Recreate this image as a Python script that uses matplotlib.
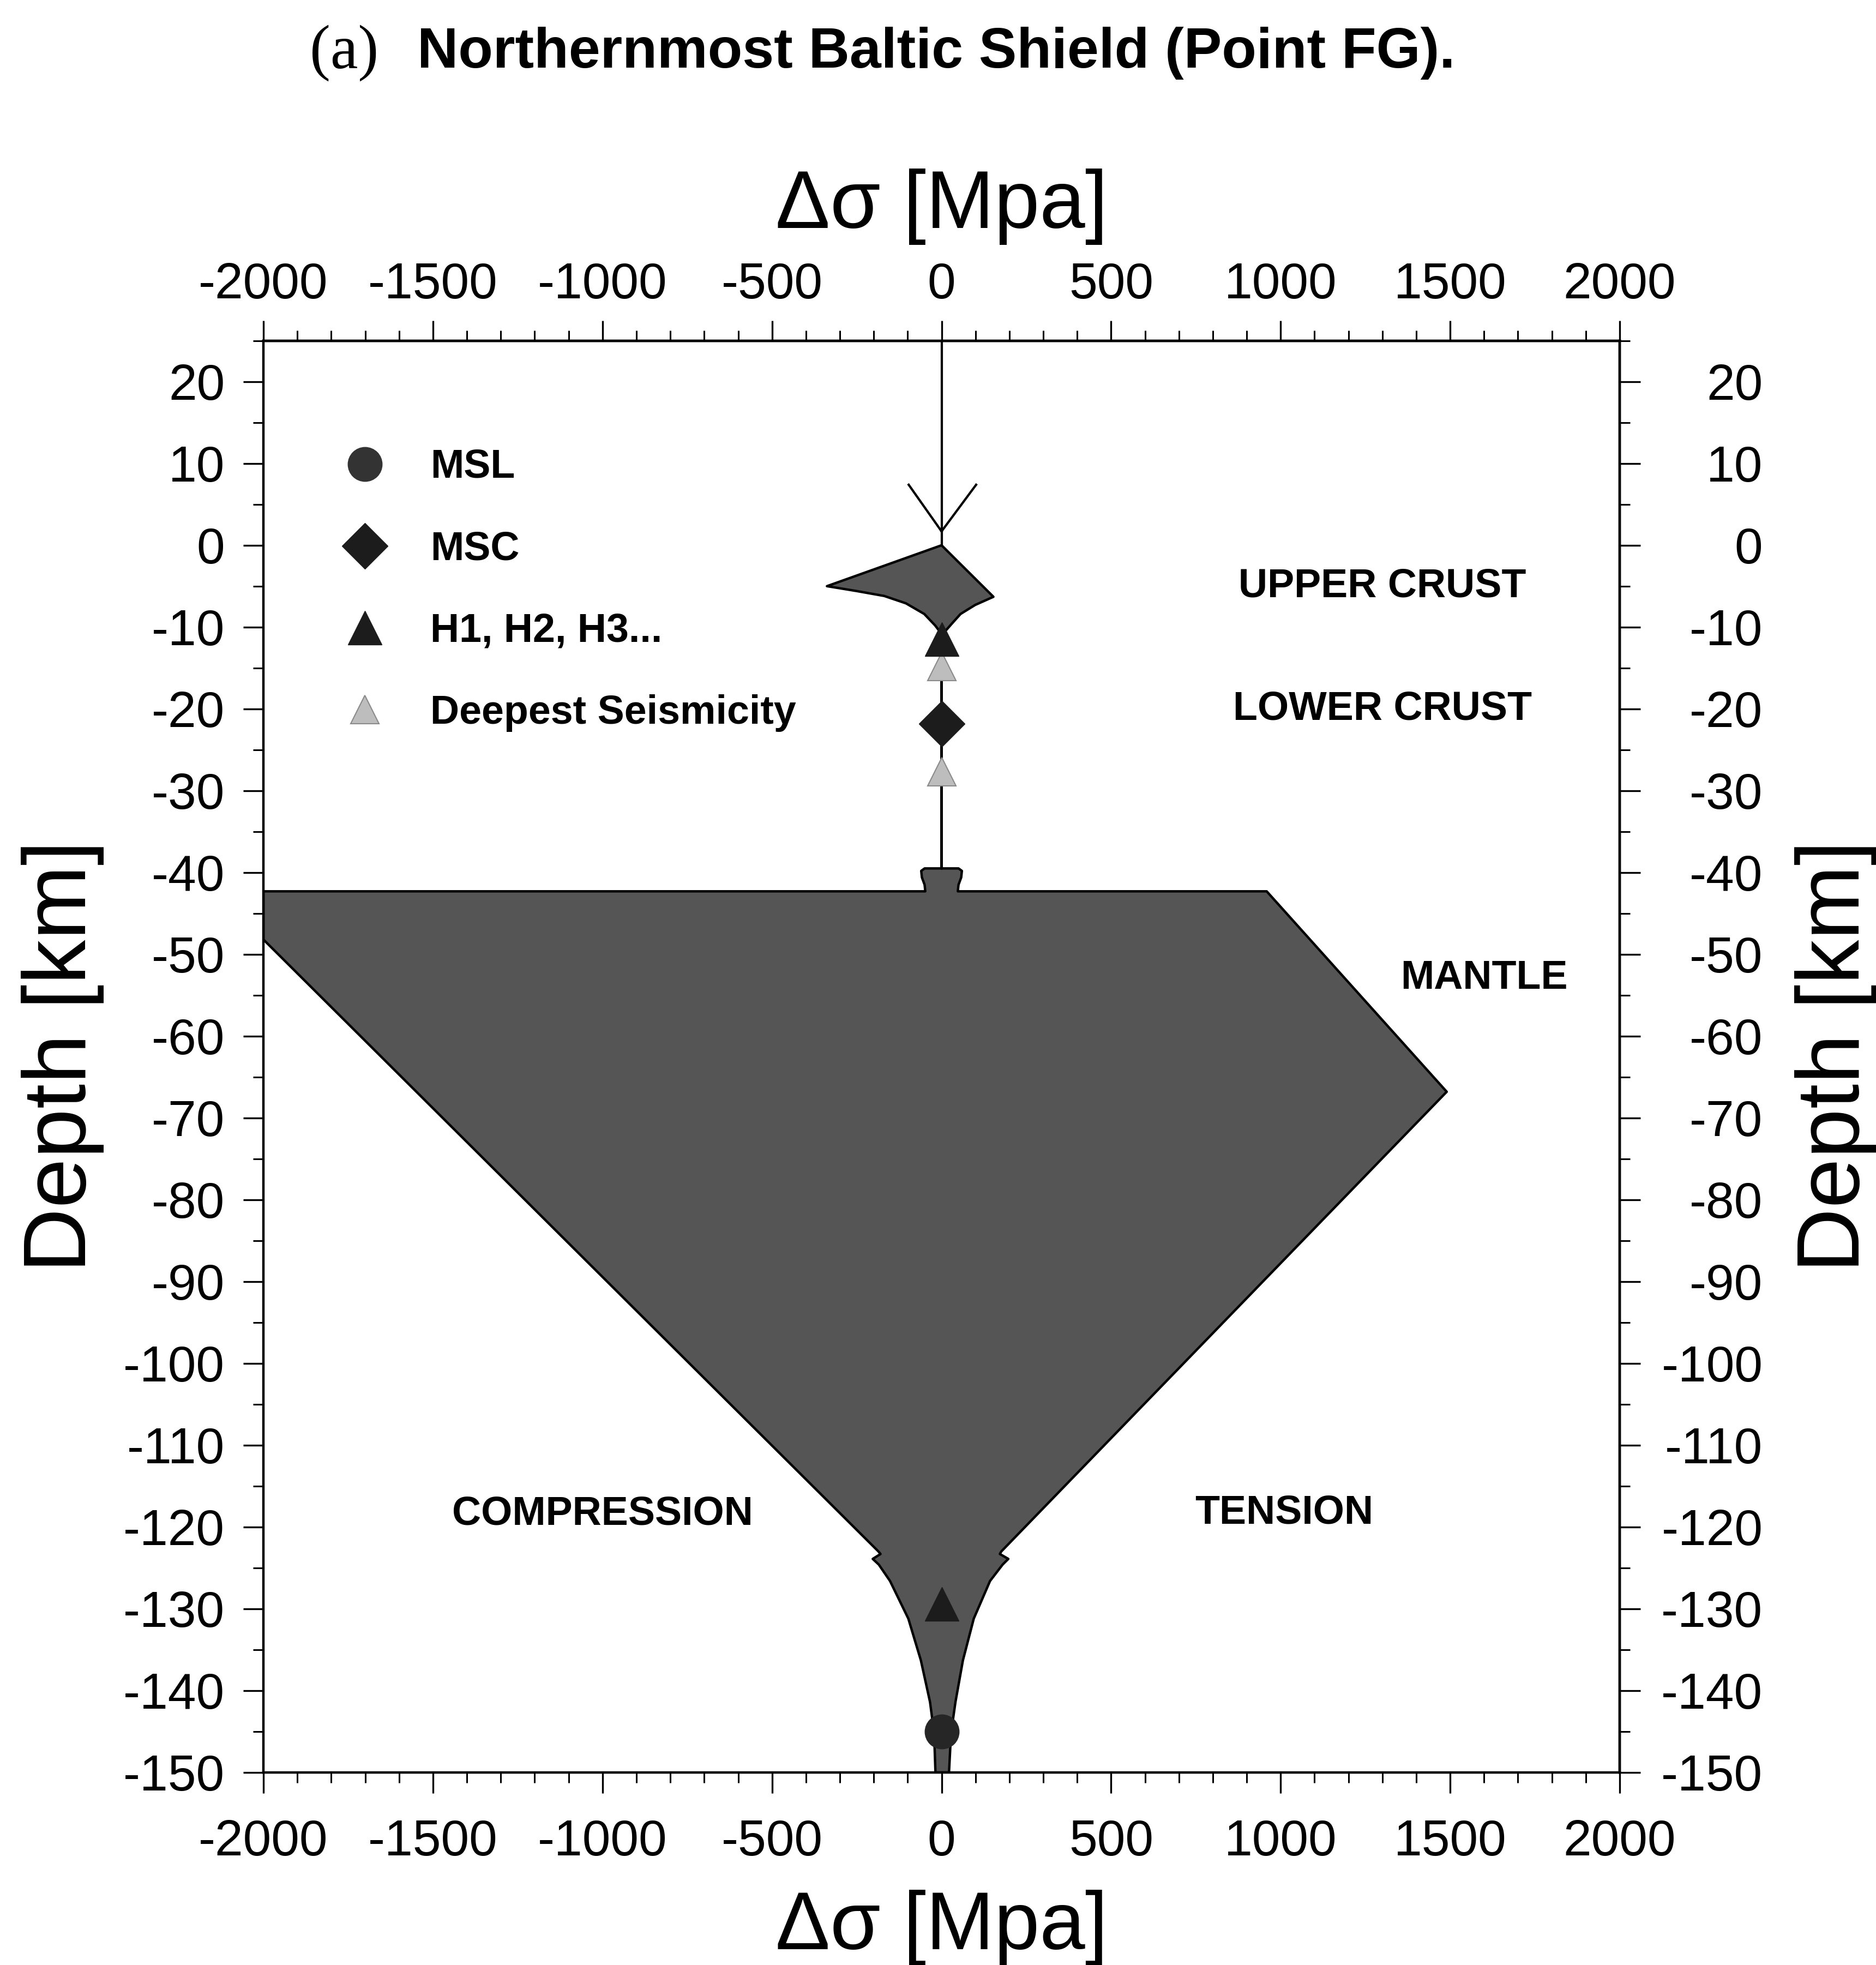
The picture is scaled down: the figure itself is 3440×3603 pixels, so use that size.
import numpy as np
import matplotlib
matplotlib.use("Agg")
import matplotlib.pyplot as plt
from matplotlib.lines import Line2D
from matplotlib.ticker import MultipleLocator

plt.rcParams['font.family'] = ['Liberation Sans', 'DejaVu Sans']
plt.rcParams['axes.unicode_minus'] = False

# strength envelope, compression side: depth [km], stress [MPa]
comp_depth = [0, -5.0, -5.6, -6.2, -7.1, -8.4, -9.8, -10.4, -11.0,
              -39.5, -39.5, -39.8, -40.6, -41.5, -42.3,
              -42.3, -48.2, -123.0, -123.3, -123.9, -124.6,
              -126.6, -131.2, -136.3, -141.4, -145.2, -150]
comp_stress = [0, -338, -250, -169, -105, -51, -19, -8, 0,
               0, -50, -60, -58, -50, -48,
               -2000, -2000, -186, -180, -203, -185,
               -152, -98, -61, -34, -22, -18]

# tension side
tens_depth = [0, -6.3, -7.3, -8.4, -9.6, -10.4, -11.0,
              -39.5, -39.5, -39.8, -40.6, -41.5, -42.3,
              -42.3, -66.8, -123.0, -123.3, -123.9, -124.6,
              -126.6, -131.2, -136.3, -141.4, -145.2, -150]
tens_stress = [0, 153, 99, 56, 30, 13, 0,
               0, 50, 60, 58, 50, 48,
               959, 1490, 176, 172, 197, 180,
               143, 95, 63, 41, 28, 22]

# above the surface
air_depth = [25, 0]
air_stress = [0, 0]
v_depth = [7.4, 1.7]
v_comp = [-97, 0]
v_tens = [102, 0]

# markers (all at zero stress)
msl_depth = [-145.0]
msc_depth = [-21.8]
h_depth = [-11.5, -129.4]
seis_depth = [-14.8, -27.7]

region_names = ['UPPER CRUST', 'LOWER CRUST', 'MANTLE', 'COMPRESSION', 'TENSION']
region_x = [1300, 1300, 1600, -1000, 1010]
region_y = [-5.0, -20.0, -52.9, -118.4, -118.3]

legend_labels = ['MSL', 'MSC', 'H1, H2, H3...', 'Deepest Seismicity']

fill_color = '#555555'
dark = '#1c1c1c'
seis_color = '#bdbdbd'

fig = plt.figure(figsize=(34.41, 36.03), dpi=100)
ax = fig.add_axes([0.1404, 0.0980, 0.7227, 0.7286])

xs = comp_stress + tens_stress[::-1]
ys = comp_depth + tens_depth[::-1]
ax.fill(xs, ys, facecolor=fill_color, edgecolor='black', linewidth=3.2,
        joinstyle='round', zorder=2)

ax.plot(air_stress, air_depth, color='black', lw=3, zorder=3)
ax.plot(v_comp, v_depth, color='black', lw=3, zorder=3)
ax.plot(v_tens, v_depth, color='black', lw=3, zorder=3)

ax.plot(np.zeros(len(seis_depth)), seis_depth, ls='none', marker='^', ms=37,
        mfc=seis_color, mec='#8a8a8a', mew=1.5, zorder=4)
ax.plot(np.zeros(len(h_depth)), h_depth, ls='none', marker='^', ms=44,
        mfc=dark, mec=dark, zorder=4)
ax.plot(np.zeros(len(msc_depth)), msc_depth, ls='none', marker='D', ms=43,
        mfc=dark, mec=dark, zorder=4)
ax.plot(np.zeros(len(msl_depth)), msl_depth, ls='none', marker='o', ms=45,
        mfc='#262626', mec='#262626', zorder=4)

for name, x, y in zip(region_names, region_x, region_y):
    ax.text(x, y, name, ha='center', va='center', fontsize=53,
            fontweight='bold', zorder=5)

handles = [
    Line2D([], [], ls='none', marker='o', ms=45, mfc='#333333', mec='#333333'),
    Line2D([], [], ls='none', marker='D', ms=43, mfc=dark, mec=dark),
    Line2D([], [], ls='none', marker='^', ms=44, mfc=dark, mec=dark),
    Line2D([], [], ls='none', marker='^', ms=37, mfc=seis_color, mec='#8a8a8a', mew=1.5),
]
ax.legend(handles, legend_labels, loc='upper left', bbox_to_anchor=(0.0598, 0.9245),
          frameon=False, prop={'size': 53, 'weight': 'bold'}, handlelength=1.0,
          handletextpad=1.14, labelspacing=1.1, borderpad=0, borderaxespad=0)

ax.set_xlim(-2000, 2000)
ax.set_ylim(-150, 25)

xt = np.arange(-2000, 2001, 500)
yt = np.arange(-150, 21, 10)
ax.set_xticks(xt)
ax.set_yticks(yt)
ax.xaxis.set_minor_locator(MultipleLocator(100))
ax.yaxis.set_minor_locator(MultipleLocator(5))

secx = ax.secondary_xaxis('top')
secx.set_xticks(xt)
secx.xaxis.set_minor_locator(MultipleLocator(100))
secy = ax.secondary_yaxis('right')
secy.set_yticks(yt)
secy.yaxis.set_minor_locator(MultipleLocator(5))

for a in (ax, secx, secy):
    a.tick_params(which='major', direction='out', length=27, width=2.4, labelsize=67)
    a.tick_params(which='minor', direction='out', length=14, width=2.2)
    for s in a.spines.values():
        s.set_linewidth(3.2)

ax.tick_params(axis='x', pad=34)
ax.tick_params(axis='y', pad=24)
secx.tick_params(axis='x', pad=15)
secy.tick_params(axis='y', pad=162)
plt.setp(secy.get_yticklabels(), ha='right')

ax.set_xlabel('Δσ [Mpa]', fontsize=108)
ax.xaxis.set_label_coords(0.5, -0.1085)
ax.xaxis.label.set_va('center')
secx.set_xlabel('Δσ [Mpa]', fontsize=108)
secx.xaxis.set_label_coords(0.5, 1.0937, transform=ax.transAxes)
secx.xaxis.label.set_va('center')
ax.set_ylabel('Depth [km]', fontsize=118)
ax.yaxis.set_label_coords(-0.148, 0.5)
ax.yaxis.label.set_va('center')
secy.set_ylabel('Depth [km]', fontsize=118, rotation=90)
secy.yaxis.set_label_coords(1.1596, 0.5, transform=ax.transAxes)
secy.yaxis.label.set_va('center')
secy.yaxis.label.set_ha('center')

fig.text(0.165, 0.9655, '(a)', family=['Liberation Serif', 'DejaVu Serif'],
         fontsize=82, ha='left', va='baseline')
fig.text(0.2224, 0.9655, 'Northernmost Baltic Shield (Point FG).', fontsize=75,
         fontweight='bold', ha='left', va='baseline')

fig.savefig('out.png', dpi=100, facecolor='white')
